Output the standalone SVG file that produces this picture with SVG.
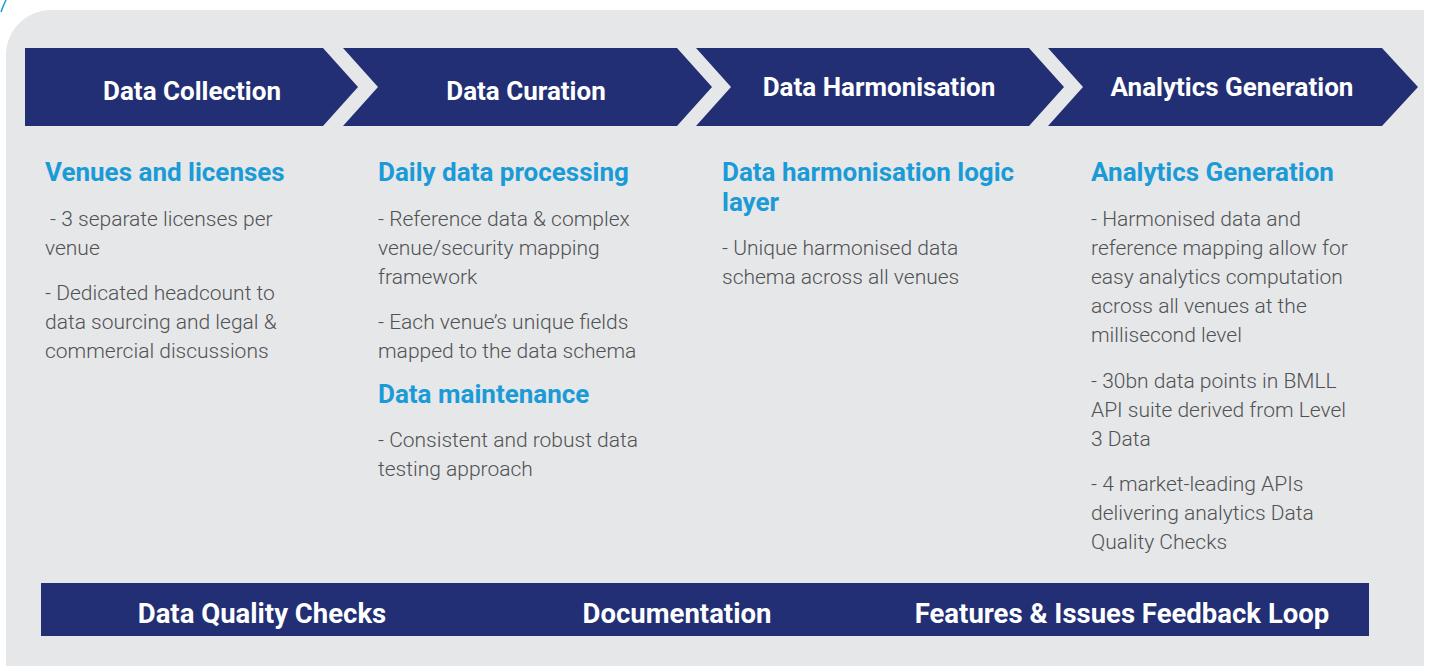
<svg xmlns="http://www.w3.org/2000/svg" width="1429" height="666" viewBox="0 0 1429 666">
<style>
.bg{fill:#e6e7e9}
.nav{fill:#222f75}
.ht{font-family:Roboto,"Open Sans",sans-serif;font-weight:700;font-size:26px;fill:#fff;text-anchor:middle}
.bt{font-family:Roboto,"Open Sans",sans-serif;font-weight:700;font-size:27.5px;fill:#fff;text-anchor:middle}
.h{font-family:Roboto,"Open Sans",sans-serif;font-weight:700;font-size:26px;fill:#1a9bd7}
.b{font-family:Roboto,"Open Sans",sans-serif;font-weight:300;font-size:21px;fill:#505254}
</style>
<rect width="1429" height="666" fill="#ffffff"/>
<path class="bg" d="M51,10 H1424 V666 H6 V55 A45,45 0 0 1 51,10 Z"/>
<path d="M6,0 Q3,6 1,12" fill="none" stroke="#1a9bd7" stroke-width="1.5"/>
<g id="stage-collection">
<polygon class="nav" points="25,48 323,48 358,87 323,126 25,126"/>
<text class="ht" x="192" y="100">Data Collection</text>
</g>
<g id="stage-curation">
<polygon class="nav" points="343,48 677,48 712,87 677,126 343,126 378,87"/>
<text class="ht" x="526" y="100">Data Curation</text>
</g>
<g id="stage-harmonisation">
<polygon class="nav" points="696,48 1029,48 1064,87 1029,126 696,126 731,87"/>
<text class="ht" x="879" y="96">Data Harmonisation</text>
</g>
<g id="stage-analytics">
<polygon class="nav" points="1048,48 1382,48 1418,87 1382,126 1048,126 1083,87"/>
<text class="ht" x="1232" y="96">Analytics Generation</text>
</g>
<g id="connectors"></g>
<g id="col1">
<text class="h" x="45" y="181">Venues and licenses</text>
<text class="b" x="45" y="226" xml:space="preserve"> - 3 separate licenses per</text>
<text class="b" x="45" y="255">venue</text>
<text class="b" x="45" y="300">- Dedicated headcount to</text>
<text class="b" x="45" y="329">data sourcing and legal &amp;</text>
<text class="b" x="45" y="358">commercial discussions</text>
</g>
<g id="col2">
<text class="h" x="378" y="181">Daily data processing</text>
<text class="b" x="378" y="226">- Reference data &amp; complex</text>
<text class="b" x="378" y="255">venue/security mapping</text>
<text class="b" x="378" y="284">framework</text>
<text class="b" x="378" y="329">- Each venue’s unique fields</text>
<text class="b" x="378" y="358">mapped to the data schema</text>
<text class="h" x="378" y="403">Data maintenance</text>
<text class="b" x="378" y="447">- Consistent and robust data</text>
<text class="b" x="378" y="476">testing approach</text>
</g>
<g id="col3">
<text class="h" x="722" y="181">Data harmonisation logic</text>
<text class="h" x="722" y="211">layer</text>
<text class="b" x="722" y="255">- Unique harmonised data</text>
<text class="b" x="722" y="284">schema across all venues</text>
</g>
<g id="col4">
<text class="h" x="1091" y="181">Analytics Generation</text>
<text class="b" x="1091" y="226">- Harmonised data and</text>
<text class="b" x="1091" y="255">reference mapping allow for</text>
<text class="b" x="1091" y="284">easy analytics computation</text>
<text class="b" x="1091" y="313">across all venues at the</text>
<text class="b" x="1091" y="342">millisecond level</text>
<text class="b" x="1091" y="388">- 30bn data points in BMLL</text>
<text class="b" x="1091" y="417">API suite derived from Level</text>
<text class="b" x="1091" y="446">3 Data</text>
<text class="b" x="1091" y="491">- 4 market-leading APIs</text>
<text class="b" x="1091" y="520">delivering analytics Data</text>
<text class="b" x="1091" y="549">Quality Checks</text>
</g>
<g id="bottom-bar">
<rect class="nav" x="41" y="583" width="1328" height="53"/>
<text class="bt" x="262" y="623">Data Quality Checks</text>
<text class="bt" x="677" y="623">Documentation</text>
<text class="bt" x="1122" y="623">Features &amp; Issues Feedback Loop</text>
</g>
</svg>
